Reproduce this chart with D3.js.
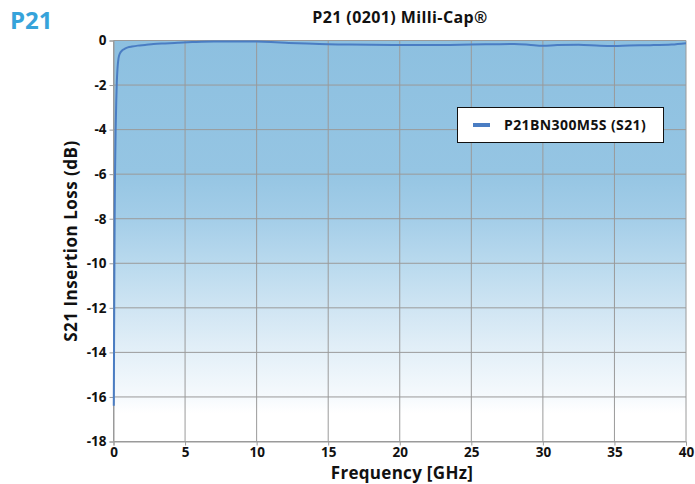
<!DOCTYPE html>
<html><head><meta charset="utf-8">
<script src="https://cdn.jsdelivr.net/npm/d3@7"></script>
<style>body{margin:0;background:#fff}svg{display:block;font-family:"Open Sans",sans-serif}</style>
</head><body>
<svg id="c" width="695" height="484"></svg>
<script>
const freq = [0.02,0.04,0.06,0.08,0.11,0.15,0.19,0.23,0.28,0.35,0.45,0.6,0.8,1.0,1.3,1.7,2.2,2.8,3.6,4.5,5.5,7,8.5,10,11,12,13.5,15,16.5,18,20,21.5,23,25,26.5,28,29,30,31,32.5,34,35,36,37.5,39,40];
const loss = [-16.4,-13.5,-10.5,-8,-5.8,-4,-2.8,-1.9,-1.25,-0.8,-0.58,-0.45,-0.37,-0.31,-0.27,-0.23,-0.2,-0.16,-0.13,-0.1,-0.07,-0.04,-0.04,-0.05,-0.07,-0.1,-0.14,-0.17,-0.18,-0.19,-0.2,-0.2,-0.2,-0.18,-0.17,-0.16,-0.19,-0.24,-0.2,-0.19,-0.24,-0.25,-0.22,-0.21,-0.18,-0.12];
const xTicks = [0,5,10,15,20,25,30,35,40];
const yTicks = [0,-2,-4,-6,-8,-10,-12,-14,-16,-18];
const seriesName = "P21BN300M5S (S21)";

const svg = d3.select("#c");
const L=113.5,R=686,T=40.5,B=441.5;
const x = d3.scaleLinear().domain([0,40]).range([L,R]);
const y = d3.scaleLinear().domain([-18,0]).range([B,T]);

const defs = svg.append("defs");
const g = defs.append("linearGradient").attr("id","bg").attr("x1",0).attr("y1",0).attr("x2",0).attr("y2",1);
[["0%","#8dc0e0"],["33%","#95c5e3"],["44%","#a3cde8"],["56%","#badaee"],["67%","#d0e5f3"],["78%","#e4f0f8"],["89%","#f6fafd"],["93%","#ffffff"]]
  .forEach(s=>g.append("stop").attr("offset",s[0]).attr("stop-color",s[1]));
svg.append("rect").attr("x",L).attr("y",T).attr("width",R-L).attr("height",B-T).attr("fill","url(#bg)");

// grid
svg.append("g").selectAll("line").data(xTicks).join("line")
  .attr("x1",d=>x(d)).attr("x2",d=>x(d)).attr("y1",T).attr("y2",B)
  .attr("stroke","#9a9a9a").attr("stroke-width",1);
svg.append("g").selectAll("line").data(yTicks).join("line")
  .attr("x1",L).attr("x2",R).attr("y1",d=>y(d)).attr("y2",d=>y(d))
  .attr("stroke","#9a9a9a").attr("stroke-width",1);

// axes
const ax = svg.append("g").attr("transform",`translate(0,${B})`)
  .call(d3.axisBottom(x).tickValues(xTicks).tickSize(4).tickPadding(2));
const ay = svg.append("g").attr("transform",`translate(${L},0)`)
  .call(d3.axisLeft(y).tickValues(yTicks).tickSize(4).tickPadding(3).tickFormat(d=>d));
[ax,ay].forEach(a=>{
  a.select(".domain").attr("stroke","#9a9a9a");
  a.selectAll(".tick line").attr("stroke","#9a9a9a");
  a.selectAll("text").attr("fill","#111").style("font-size","13.5px").style("font-weight","bold").style("font-family","'Open Sans',sans-serif");
});

// line
const line = d3.line().x((d,i)=>x(freq[i])).y(d=>y(d)).curve(d3.curveMonotoneX);
svg.append("path").datum(loss).attr("d",line).attr("fill","none")
  .attr("stroke","#4a7dc3").attr("stroke-width",2);

// titles
svg.append("text").attr("x",10).attr("y",29).text("P21")
  .attr("fill","#36a3da").style("font-size","24px").style("font-weight","bold");
svg.append("text").attr("x",400).attr("y",23).attr("text-anchor","middle").text("P21 (0201) Milli-Cap®")
  .attr("fill","#111").style("font-size","16px").style("font-weight","bold").style("letter-spacing","0.4px");
svg.append("text").attr("x",402).attr("y",479).attr("text-anchor","middle").text("Frequency [GHz]")
  .attr("fill","#111").style("font-size","17px").style("font-weight","bold").style("letter-spacing","0.3px");
svg.append("text").attr("transform","translate(77,241) rotate(-90)").attr("text-anchor","middle").text("S21 Insertion Loss (dB)")
  .attr("fill","#111").style("font-size","17px").style("font-weight","bold").style("letter-spacing","0.5px");

// legend
const lg = svg.append("g");
lg.append("rect").attr("x",457.5).attr("y",107.5).attr("width",206).attr("height",35)
  .attr("fill","#fff").attr("stroke","#111").attr("stroke-width",1);
lg.append("line").attr("x1",473).attr("x2",490).attr("y1",125).attr("y2",125)
  .attr("stroke","#4a7dc3").attr("stroke-width",4);
lg.append("text").attr("x",504).attr("y",130).text(seriesName)
  .attr("fill","#111").style("font-size","14px").style("font-weight","bold").style("letter-spacing","0.4px");
</script>
</body></html>
